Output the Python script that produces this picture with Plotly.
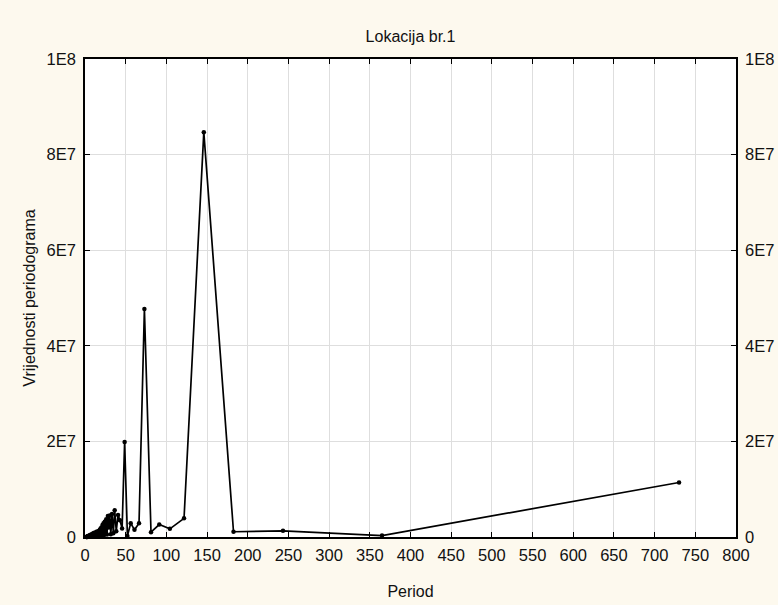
import plotly.graph_objects as go

# Periodogram of location 1: period (days) vs. periodogram value (in millions)
period = [
    730, 365, 243.3, 182.5, 146, 121.7, 104.3, 91.25, 81.1, 73,
    66.4, 60.8, 56.2, 52.1, 48.7, 45.6, 42.9, 40.6, 38.4, 36.5,
    34.8, 33.2, 31.7, 30.4, 29.2, 28.1, 27.0, 26.1, 25.2, 24.3,
    23.5, 22.8, 22.1, 21.5, 20.9, 20.3, 19.7, 19.2, 18.7, 18.25,
    17.8, 17.4, 17.0, 16.6, 16.2, 15.9, 15.5, 15.2, 14.9, 14.6,
    14.0, 13.5, 13.0, 12.6, 12.2, 11.8, 11.4, 11.1, 10.7, 10.4,
    10.1, 9.7, 9.4, 9.1, 8.8, 8.5, 8.2, 7.9, 7.6, 7.3,
    7.0, 6.8, 6.5, 6.3, 6.0, 5.8, 5.6, 5.4, 5.2, 5.0,
    4.8, 4.6, 4.4, 4.2, 4.0, 3.8, 3.6, 3.4, 3.2, 3.0,
    2.8, 2.6, 2.4, 2.2, 2.0,
]
value_mil = [
    11.4, 0.3, 1.3, 1.1, 84.7, 3.9, 1.7, 2.6, 1.0, 47.7,
    2.9, 1.5, 2.9, 0.2, 19.9, 1.8, 3.5, 4.6, 1.2, 5.6,
    0.8, 4.8, 0.6, 4.5, 2.0, 4.4, 0.5, 3.7, 1.0, 3.2,
    0.4, 2.9, 1.2, 2.5, 0.3, 2.0, 0.8, 1.8, 0.2, 1.5,
    0.6, 1.3, 0.9, 0.3, 1.2, 0.5, 1.0, 0.2, 0.9, 0.4,
    1.1, 0.3, 0.8, 0.2, 0.7, 0.3, 0.9, 0.1, 0.6, 0.4,
    0.8, 0.2, 0.5, 0.1, 0.6, 0.3, 0.4, 0.1, 0.5, 0.2,
    0.3, 0.1, 0.4, 0.2, 0.3, 0.1, 0.2, 0.1, 0.3, 0.1,
    0.2, 0.05, 0.15, 0.1, 0.2, 0.05, 0.1, 0.05, 0.1, 0.05,
    0.1, 0.02, 0.05, 0.02, 0.01,
]
value = [v * 1e6 for v in value_mil]

x_ticks = list(range(0, 801, 50))
y_tickvals = [0, 2e7, 4e7, 6e7, 8e7, 1e8]
y_ticktext = ["0", "2E7", "4E7", "6E7", "8E7", "1E8"]

FAMILY = "Liberation Sans, Arial, sans-serif"
tick_font = dict(family=FAMILY, size=16.5, color="#111111")
title_font = dict(family=FAMILY, size=16, color="#111111")

fig = go.Figure()
fig.add_trace(go.Scatter(
    x=period, y=value, mode="lines+markers",
    line=dict(color="black", width=1.7),
    marker=dict(color="black", size=4.5),
    showlegend=False, cliponaxis=False,
))
# Transparent copy on the right-hand axis so that axis is drawn
fig.add_trace(go.Scatter(
    x=period, y=value, yaxis="y2", mode="lines",
    line=dict(color="rgba(0,0,0,0)"), showlegend=False, hoverinfo="skip",
))

fig.update_layout(
    template="none",
    width=778, height=605,
    margin=dict(l=85, r=42, t=59, b=68),
    paper_bgcolor="#fdf9ee",
    plot_bgcolor="white",
    font=dict(family=FAMILY, size=16, color="#111111"),
    title=dict(text="Lokacija br.1", x=0.5, xanchor="center", xref="paper",
               y=1 - 36 / 605, yanchor="middle", font=title_font),
    xaxis=dict(range=[0, 800], tickvals=x_ticks, mirror="ticks",
               showline=True, linecolor="black", linewidth=1.5,
               ticks="inside", ticklen=5, tickcolor="black", tickwidth=1,
               showgrid=True, gridcolor="#dedede", gridwidth=1,
               zeroline=False, tickfont=tick_font, ticklabelstandoff=2,
               title=dict(text="Period", standoff=23, font=title_font)),
    yaxis=dict(range=[0, 1e8], tickvals=y_tickvals, ticktext=y_ticktext,
               showline=True, linecolor="black", linewidth=1.5,
               ticks="inside", ticklen=5, tickcolor="black", tickwidth=1,
               showgrid=True, gridcolor="#dedede", gridwidth=1,
               zeroline=False, tickfont=tick_font, ticklabelstandoff=4,
               title=dict(text="Vrijednosti periodograma", standoff=7,
                          font=title_font)),
    yaxis2=dict(range=[0, 1e8], tickvals=y_tickvals, ticktext=y_ticktext,
                overlaying="y", side="right", showline=True, linecolor="black",
                linewidth=1.5, ticks="inside", ticklen=5, tickcolor="black",
                tickwidth=1, showgrid=False, zeroline=False,
                tickfont=tick_font, ticklabelstandoff=4),
)

fig.write_html("out.html")
